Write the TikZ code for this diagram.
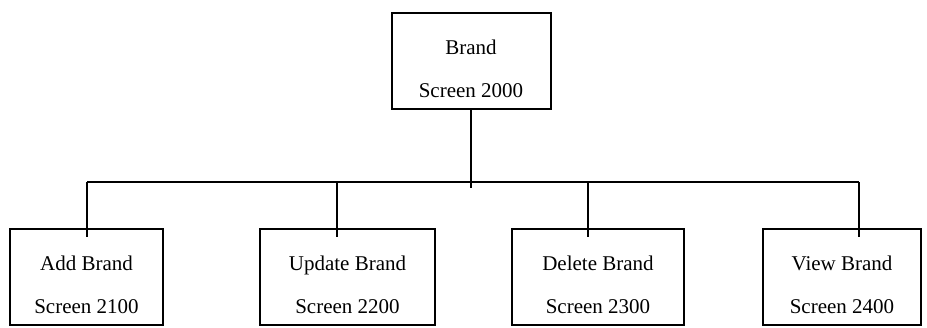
\documentclass[tikz,border=0pt]{standalone}
\usepackage{fontspec}
\setmainfont{Liberation Serif}
\usetikzlibrary{positioning}

\begin{document}
\begin{tikzpicture}[
    x=0.5pt, y=-0.5pt,
    screenbox/.style={rectangle, draw, line width=1pt, minimum height=48pt, inner sep=0pt},
    caption/.style={align=center, font=\fontsize{10.5}{21.5}\selectfont, yshift=-4pt},
    link/.style={line width=1pt}
  ]
  \useasboundingbox (0,0) rectangle (927,327);

  % top screen
  \node[screenbox, minimum width=79.5pt, label={[caption]center:Brand\\Screen 2000}] (brand) at (471,61) {};

  % sub screens
  \node[screenbox, minimum width=76.5pt, label={[caption]center:Add Brand\\Screen 2100}] (add) at (86.5,277) {};
  \node[screenbox, minimum width=87.5pt, label={[caption]center:Update Brand\\Screen 2200}] (update) at (347.5,277) {};
  \node[screenbox, minimum width=86pt, label={[caption]center:Delete Brand\\Screen 2300}] (delete) at (598,277) {};
  \node[screenbox, minimum width=79pt, label={[caption]center:View Brand\\Screen 2400}] (view) at (842,277) {};

  % connectors
  \coordinate (busL) at (87,182);
  \coordinate (busR) at (859,182);
  \draw[link] (brand.south) -- (brand.south |- busL) -- ++(0,6);
  \draw[link] (busL) -- (busR);
  \foreach \x/\n in {87/add, 337/update, 588/delete, 859/view} {
    \coordinate (d\n) at (\x,182);
    \draw[link] (d\n) -- (d\n |- \n.north) -- ++(0,9);
  }
\end{tikzpicture}
\end{document}
